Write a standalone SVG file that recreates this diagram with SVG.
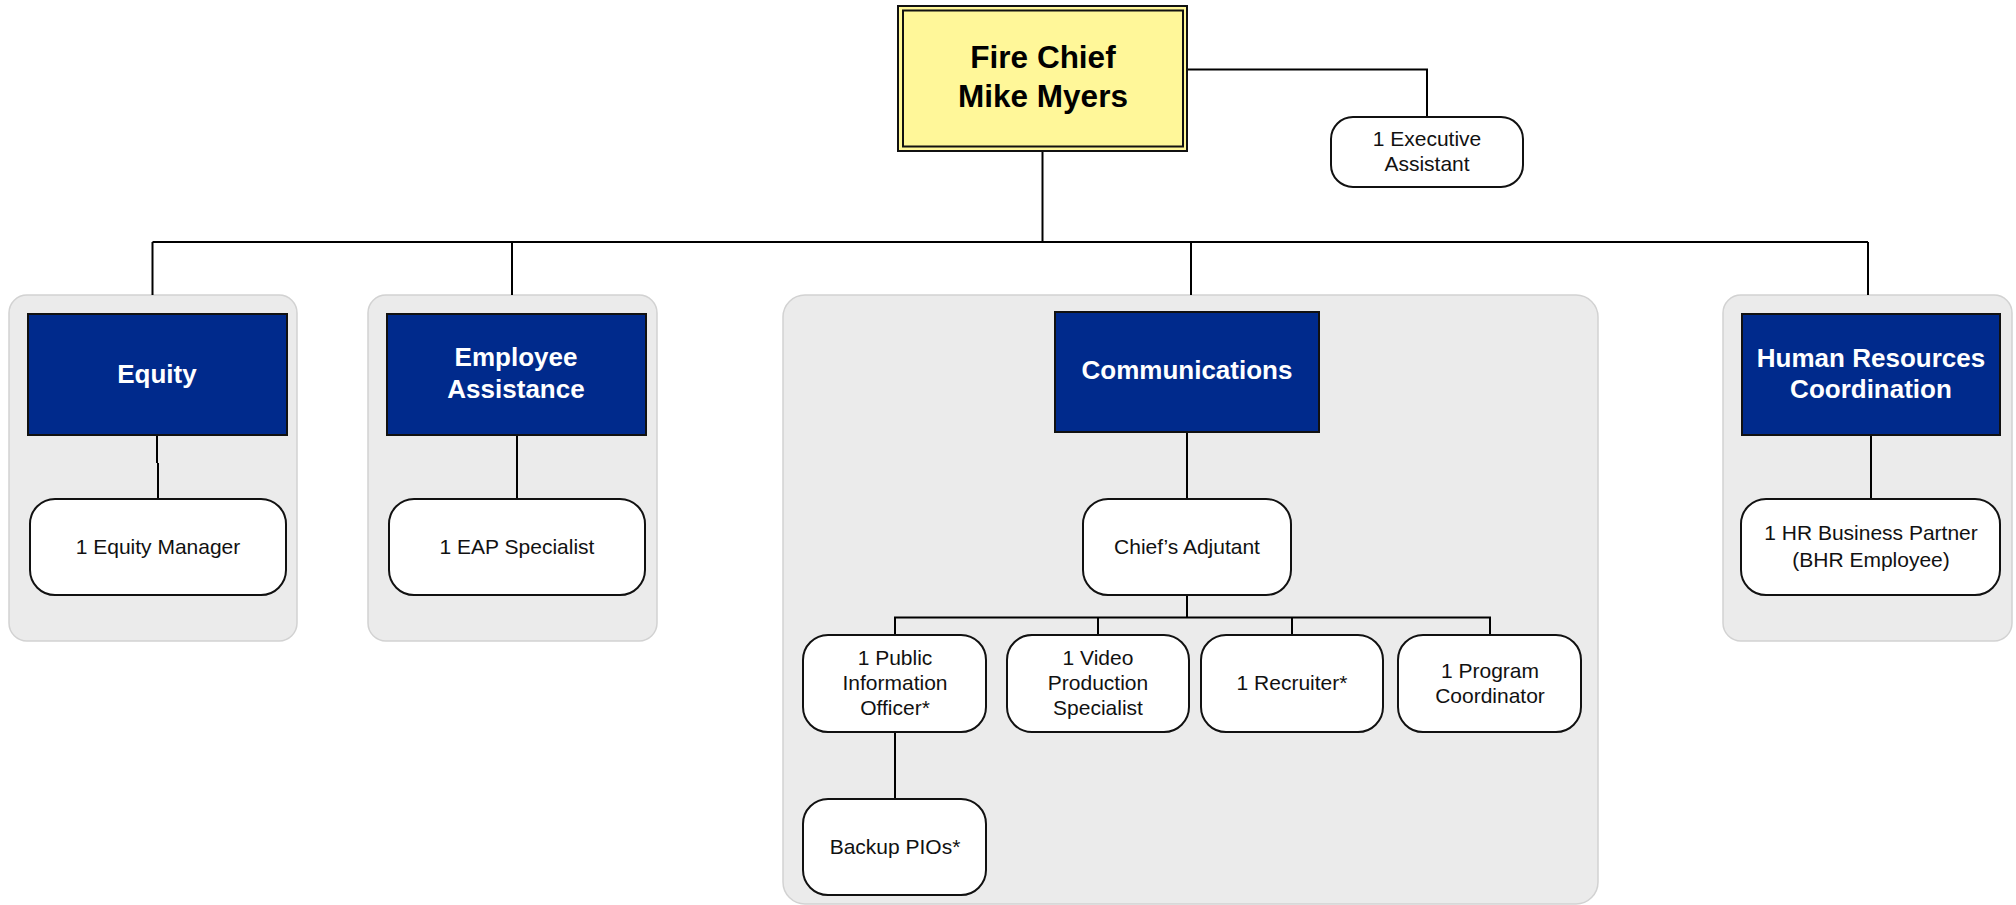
<svg xmlns="http://www.w3.org/2000/svg" width="2016" height="905" viewBox="0 0 2016 905">
<style>
.grp{fill:#ebebeb;stroke:#d2d2d2;stroke-width:1.5}
.dept{fill:#002a8c;stroke:#111;stroke-width:2}
.pos{fill:#fff;stroke:#111;stroke-width:2}
.chief{fill:#fff799;stroke:#111;stroke-width:2}
.ln{fill:none;stroke:#000;stroke-width:2}
.dt{font-family:"Liberation Sans",Arial,sans-serif;font-weight:bold;font-size:26px;fill:#fff;text-anchor:middle}
.pt{font-family:"Liberation Sans",Arial,sans-serif;font-size:21px;fill:#111;text-anchor:middle}
.ct{font-family:"Liberation Sans",Arial,sans-serif;font-weight:bold;font-size:31.5px;fill:#000;text-anchor:middle}
</style>
<rect width="2016" height="905" fill="#fff"/>
<g id="groups">
<rect class="grp" x="9" y="295" width="288" height="346" rx="18"/>
<rect class="grp" x="368" y="295" width="289" height="346" rx="18"/>
<rect class="grp" x="783" y="295" width="815" height="609" rx="22"/>
<rect class="grp" x="1723" y="295" width="289" height="346" rx="18"/>
</g>
<g id="connectors">
<path class="ln" d="M1187 69.5H1427V117"/>
<path class="ln" d="M1042.5 151V242"/>
<path class="ln" d="M152.5 242H1868" stroke-width="2.5"/>
<path class="ln" d="M152.5 242V295M512 242V295M1191 242V295M1868 242V295"/>
<path class="ln" d="M157 435V463M158 463V499"/>
<path class="ln" d="M517 435V499"/>
<path class="ln" d="M1871 435V499"/>
<path class="ln" d="M1187 432V499M1187 595V617.5"/>
<path class="ln" d="M895 635V617.5H1490V635M1098 617.5V635M1292 617.5V635"/>
<path class="ln" d="M895 732V799"/>
</g>
<g id="fire-chief">
<rect class="chief" x="898" y="6" width="289" height="145"/>
<rect class="chief" x="903" y="10.5" width="280" height="136"/>
<text class="ct" x="1043" y="68">Fire Chief</text>
<text class="ct" x="1043" y="107">Mike Myers</text>
</g>
<g id="executive-assistant">
<rect class="pos" x="1331" y="117" width="192" height="70" rx="22"/>
<text class="pt" x="1427" y="146">1 Executive</text>
<text class="pt" x="1427" y="171">Assistant</text>
</g>
<g id="equity">
<rect class="dept" x="28" y="314" width="259" height="121"/>
<text class="dt" x="157" y="383">Equity</text>
</g>
<g id="equity-manager">
<rect class="pos" x="30" y="499" width="256" height="96" rx="25"/>
<text class="pt" x="158" y="554">1 Equity Manager</text>
</g>
<g id="employee-assistance">
<rect class="dept" x="387" y="314" width="259" height="121"/>
<text class="dt" x="516" y="366">Employee</text>
<text class="dt" x="516" y="398">Assistance</text>
</g>
<g id="eap-specialist">
<rect class="pos" x="389" y="499" width="256" height="96" rx="25"/>
<text class="pt" x="517" y="554">1 EAP Specialist</text>
</g>
<g id="communications">
<rect class="dept" x="1055" y="312" width="264" height="120"/>
<text class="dt" x="1187" y="379">Communications</text>
</g>
<g id="chiefs-adjutant">
<rect class="pos" x="1083" y="499" width="208" height="96" rx="25"/>
<text class="pt" x="1187" y="554">Chief’s Adjutant</text>
</g>
<g id="pio">
<rect class="pos" x="803" y="635" width="183" height="97" rx="25"/>
<text class="pt" x="895" y="665">1 Public</text>
<text class="pt" x="895" y="690">Information</text>
<text class="pt" x="895" y="715">Officer*</text>
</g>
<g id="video-production">
<rect class="pos" x="1007" y="635" width="182" height="97" rx="25"/>
<text class="pt" x="1098" y="665">1 Video</text>
<text class="pt" x="1098" y="690">Production</text>
<text class="pt" x="1098" y="715">Specialist</text>
</g>
<g id="recruiter">
<rect class="pos" x="1201" y="635" width="182" height="97" rx="25"/>
<text class="pt" x="1292" y="690">1 Recruiter*</text>
</g>
<g id="program-coordinator">
<rect class="pos" x="1398" y="635" width="183" height="97" rx="25"/>
<text class="pt" x="1490" y="678">1 Program</text>
<text class="pt" x="1490" y="703">Coordinator</text>
</g>
<g id="backup-pios">
<rect class="pos" x="803" y="799" width="183" height="96" rx="25"/>
<text class="pt" x="895" y="854">Backup PIOs*</text>
</g>
<g id="human-resources">
<rect class="dept" x="1742" y="314" width="258" height="121"/>
<text class="dt" x="1871" y="367">Human Resources</text>
<text class="dt" x="1871" y="398">Coordination</text>
</g>
<g id="hr-business-partner">
<rect class="pos" x="1741" y="499" width="259" height="96" rx="25"/>
<text class="pt" x="1871" y="540">1 HR Business Partner</text>
<text class="pt" x="1871" y="567">(BHR Employee)</text>
</g>
</svg>
